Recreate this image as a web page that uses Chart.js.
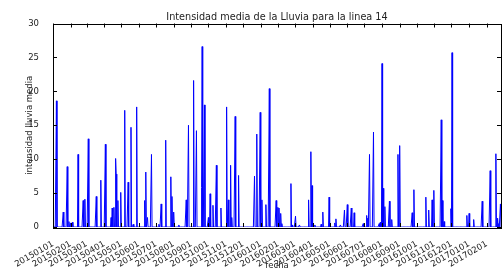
<!DOCTYPE html>
<html>
<head>
<meta charset="utf-8">
<script src="https://cdn.jsdelivr.net/npm/chart.js@4"></script>
<style>
    html, body { margin: 0; padding: 0; background: #fff; }
    #wrap { width: 502px; height: 269px; }
</style>
</head>
<body>
<div id="wrap"><canvas id="lluviaChart" width="502" height="269"></canvas></div>
<script>
// Intensidad media de la lluvia, linea 14 — daily series from 2015-01-01.
// Days without a listed value are 0.

const totalDays = 787;
const chartTitle = 'Intensidad media de la Lluvia para la linea 14';

const spikeDays = [
    6, 18, 25, 28, 31, 34, 44, 53, 56, 62, 76, 84, 92, 102, 104, 107, 110, 111, 114, 119,
    126, 132, 137, 141, 147, 161, 163, 166, 173, 186, 190, 198, 207, 209, 212, 221, 234, 238, 247, 252,
    261, 262, 266, 273, 276, 281, 287, 295, 305, 308, 312, 314, 320, 326, 354, 358, 364, 367, 374, 380,
    392, 395, 397, 400, 402, 418, 420, 426, 433, 449, 453, 455, 460, 471, 474, 485, 495, 497, 505, 512, 517,
    524, 529, 545, 551, 553, 556, 563, 573, 575, 578, 580, 583, 591, 595, 606, 609, 631, 634,
    655, 660, 666, 669, 682, 684, 687, 699, 701, 727, 731, 739, 754, 768, 778, 781, 783, 786
];
const spikeValues = [
    18.6, 2.2, 8.9, 0.8, 0.6, 0.7, 10.7, 3.9, 4.1, 13.0, 4.5, 6.9, 12.2, 1.4, 2.8, 2.9, 10.1, 7.8, 3.9, 5.1,
    17.2, 6.6, 14.7, 0.4, 17.7, 3.9, 8.1, 1.4, 10.7, 0.4, 3.4, 12.8, 7.4, 4.5, 2.2, 0.3, 4.0, 15.0, 21.6, 14.2,
    5.8, 26.6, 18.0, 1.4, 4.9, 3.2, 9.1, 2.8, 17.7, 4.0, 9.1, 1.4, 16.3, 7.6, 7.5, 13.7, 16.9, 4.0, 3.3, 20.4,
    3.9, 2.9, 2.8, 2.0, 0.5, 6.4, 0.3, 1.6, 0.3, 4.0, 11.1, 6.1, 0.3, 0.4, 2.2, 4.4, 0.6, 1.2, 0.3, 2.5, 3.3,
    2.8, 2.1, 0.5, 1.7, 1.3, 10.7, 14.0, 0.5, 0.7, 24.1, 5.7, 3.0, 3.8, 1.1, 10.7, 12.0, 2.1, 5.5,
    4.4, 2.5, 4.0, 5.4, 15.8, 3.9, 0.8, 2.7, 25.7, 1.7, 2.0, 1.1, 3.8, 8.3, 10.8, 1.3, 0.5, 3.4
];

const monthLabels = [
    '20150101', '20150201', '20150301', '20150401', '20150501', '20150601', '20150701',
    '20150801', '20150901', '20151001', '20151101', '20151201',
    '20160101', '20160201', '20160301', '20160401', '20160501', '20160601', '20160701',
    '20160801', '20160901', '20161001', '20161101', '20161201',
    '20170101', '20170201'
];

const yTicks = [0, 5, 10, 15, 20, 25, 30];

const startUTC = Date.UTC(2015, 0, 1);
const dayOf = (label) => {
    const y = Number(label.slice(0, 4));
    const m = Number(label.slice(4, 6)) - 1;
    const d = Number(label.slice(6, 8));
    return Math.round((Date.UTC(y, m, d) - startUTC) / 86400000);
};
const monthDays = monthLabels.map(dayOf);

const dailyValues = new Array(totalDays + 1).fill(0);
spikeDays.forEach((day, i) => {
    dailyValues[day] = spikeValues[i];
});
const points = dailyValues.map((v, i) => ({ x: i, y: v }));

const FONT = 'DejaVu Sans';
const TEXT = '#222';

// matplotlib-ish frame: full box with inward ticks on all sides, title over the plot area
const framePlugin = {
    id: 'frame',
    afterDraw(chart) {
        const { ctx, chartArea: a, scales } = chart;
        const len = 4;
        ctx.save();
        ctx.strokeStyle = '#000';
        ctx.lineWidth = 1;
        ctx.beginPath();
        monthDays.forEach((d) => {
            const x = Math.round(scales.x.getPixelForValue(d)) + 0.5;
            ctx.moveTo(x, a.top);
            ctx.lineTo(x, a.top + len);
            ctx.moveTo(x, a.bottom);
            ctx.lineTo(x, a.bottom - len);
        });
        yTicks.forEach((v) => {
            const y = Math.round(scales.y.getPixelForValue(v)) + 0.5;
            ctx.moveTo(a.left, y);
            ctx.lineTo(a.left + len, y);
            ctx.moveTo(a.right, y);
            ctx.lineTo(a.right - len, y);
        });
        ctx.stroke();
        ctx.strokeRect(Math.round(a.left) + 0.5, Math.round(a.top) + 0.5,
            Math.round(a.right - a.left), Math.round(a.bottom - a.top));

        ctx.fillStyle = TEXT;
        ctx.font = `9.7px "${FONT}"`;
        ctx.textAlign = 'center';
        ctx.textBaseline = 'alphabetic';
        ctx.fillText(chartTitle, (a.left + a.right) / 2, 20);
        ctx.restore();
    }
};

new Chart(document.getElementById('lluviaChart').getContext('2d'), {
    type: 'line',
    data: {
        datasets: [{
            label: 'intensidad',
            data: points,
            borderColor: '#0000ff',
            borderWidth: 1,
            pointRadius: 0,
            fill: false,
            tension: 0
        }]
    },
    options: {
        responsive: false,
        animation: false,
        devicePixelRatio: 1,
        layout: { padding: { left: 24, right: 1, top: 23.5, bottom: 0 } },
        scales: {
            x: {
                type: 'linear',
                min: 0,
                max: totalDays,
                grid: { display: false },
                border: { display: false },
                afterBuildTicks: (scale) => {
                    scale.ticks = monthDays.map((d) => ({ value: d }));
                },
                afterFit: (scale) => {
                    scale.height = 42;
                },
                ticks: {
                    autoSkip: false,
                    maxRotation: 30,
                    minRotation: 30,
                    padding: 4,
                    color: TEXT,
                    font: { family: FONT, size: 8.5 },
                    callback: (value) => {
                        const idx = monthDays.indexOf(value);
                        return idx >= 0 ? monthLabels[idx] : '';
                    }
                },
                title: {
                    display: true,
                    text: 'fecha',
                    color: TEXT,
                    font: { family: FONT, size: 8.5 },
                    padding: { top: 0, bottom: -2 }
                }
            },
            y: {
                min: 0,
                max: 30,
                grid: { display: false },
                border: { display: false },
                afterBuildTicks: (scale) => {
                    scale.ticks = yTicks.map((v) => ({ value: v }));
                },
                afterFit: (scale) => {
                    scale.width = 29;
                },
                ticks: {
                    padding: 6,
                    color: TEXT,
                    font: { family: FONT, size: 8.5 }
                },
                title: {
                    display: true,
                    text: 'intensidad lluvia media',
                    color: TEXT,
                    font: { family: FONT, size: 8.5 },
                    padding: { top: 1, bottom: 2 }
                }
            }
        },
        plugins: {
            legend: { display: false },
            tooltip: { enabled: false },
            title: { display: false }
        }
    },
    plugins: [framePlugin]
});
</script>
</body>
</html>
